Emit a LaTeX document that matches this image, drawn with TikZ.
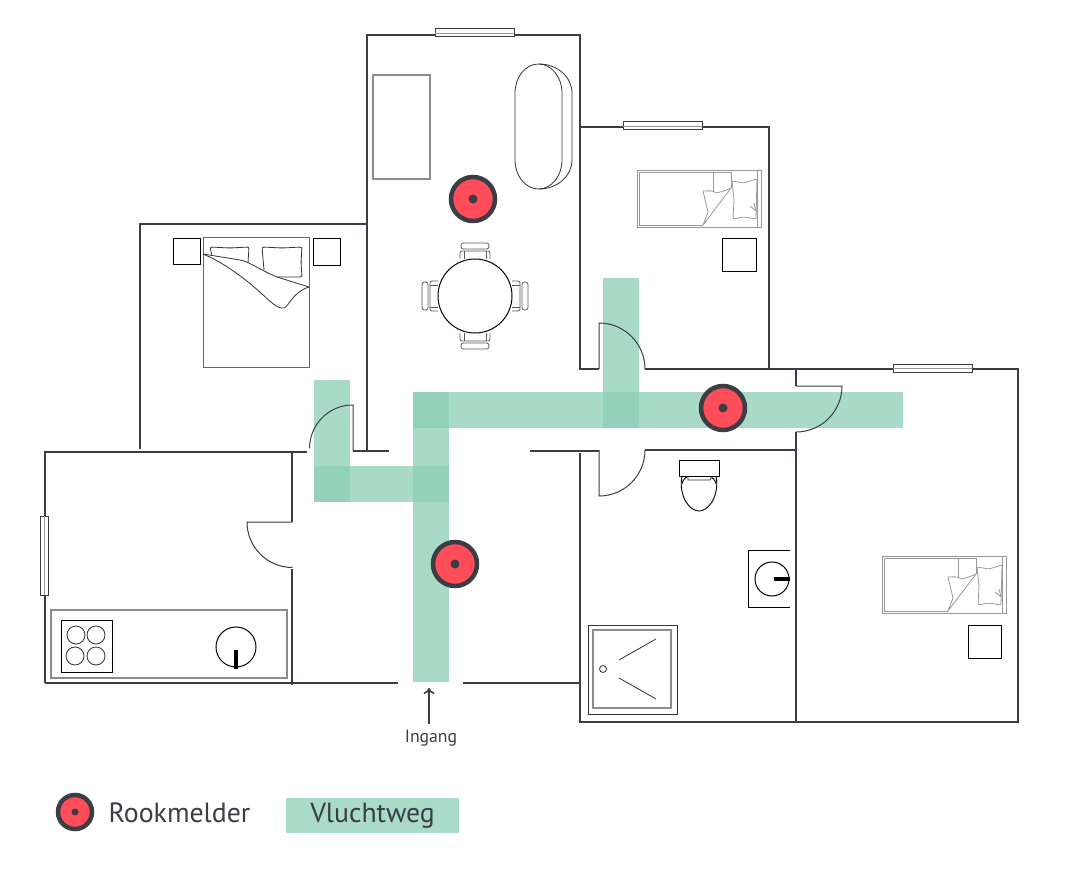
\documentclass[tikz,border=0pt]{standalone}
\usepackage{fontspec}
\setmainfont{PT Sans}
\usetikzlibrary{arrows.meta}
\definecolor{walldark}{HTML}{3B3D45}
\definecolor{alarmred}{HTML}{FF4D5A}
\definecolor{routegreen}{RGB}{141,207,182}
\definecolor{legendgreen}{HTML}{A9DBC8}
\tikzset{
  wall/.style={draw=walldark,line width=2pt},
  doorleaf/.style={draw=walldark,line width=1pt},
  thinline/.style={draw=black!80,line width=.8pt},
  lightline/.style={draw=black!40,line width=.8pt},
  greyline/.style={draw=black!45,line width=1.4pt},
  route/.style={fill=routegreen,fill opacity=.756},
  wintje/.style={draw=walldark,line width=1pt,fill=white},
  melder/.style={circle,draw=walldark,fill=alarmred,line width=4.5pt,inner sep=0pt,minimum size=#1},
  chair/.pic={
    \draw[lightline,draw=black!65,rounded corners=2pt] (-15,-37) -- (-15,-45) -- (15,-45) -- (15,-37);
    \draw[lightline,draw=black!65] (-11,-45) -- (-11,-37);
    \draw[lightline,draw=black!65] (11,-45) -- (11,-37);
    \draw[lightline,draw=black!65,rounded corners=2.5pt] (-14,-53) rectangle (14,-47);
  },
  singlebed/.pic={
    \draw[lightline] (0,0) rectangle (124,57);
    \draw[lightline] (94,18) -- (94,2) -- (2,2) -- (2,55) -- (66,55);
    \draw[lightline] (76,2) -- (76,21);
    \draw[lightline] (66,21) .. controls (72,21) and (75,20) .. (79,23) .. controls (84,22) and (90,20) .. (94,18);
    \draw[lightline] (66,21) -- (71,42) -- (66,55) -- (94,18);
    \draw[lightline,rounded corners=1pt] (95,11) -- (107,13) -- (120,9) -- (119,49) -- (107,47) -- (96,49) -- (97,30) -- cycle;
    \draw[lightline] (120,0) -- (120,57);
    \draw[lightline] (113,36) -- (119,41);
    \draw[lightline] (117,33) -- (119,41);
  }
}
\begin{document}
\begin{tikzpicture}[x=1pt,y=-1pt]
    \useasboundingbox (0,0) rectangle (1080,896);
    \fill[white] (0,0) rectangle (1080,896);
    \fill[route] (314,380) rectangle (350,502);
    \fill[route] (314,466) rectangle (448.5,502);
    \fill[route] (412.5,391.5) rectangle (448.5,682);
    \fill[route] (412.5,391.5) rectangle (903,427.5);
    \fill[route] (603,278) rectangle (639,427.5);

    \draw[wall] (367,452) -- (367,35) -- (580,35) -- (580,369) -- (599,369);
    \draw[wall] (580,127) -- (769,127) -- (769,369);
    \draw[wall] (645,369) -- (1018,369) -- (1018,722) -- (580,722) -- (580,453);
    \draw[wall] (796,369) -- (796,386);
    \draw[wall] (796,432) -- (796,722);
    \draw[wall] (140,449) -- (140,224) -- (367,224);
    \draw[wall] (45,682.5) -- (45,452) -- (307,452);
    \draw[wall] (353,451) -- (389,451);
    \draw[wall] (292,452) -- (292,522);
    \draw[wall] (292,569) -- (292,685);
    \draw[wall] (45,682.5) -- (398,682.5);
    \draw[wall] (463,682.5) -- (580,682.5);
    \draw[wall] (530,451) -- (599,451);
    \draw[wall] (645,450) -- (796,450);

    \draw[wintje] (435,29) rectangle (514,37);
    \draw[lightline] (435,33) -- (514,33);
    \draw[wintje] (623,122) rectangle (702,130);
    \draw[lightline] (623,126) -- (702,126);
    \draw[wintje] (893,364) rectangle (972,372);
    \draw[lightline] (893,368) -- (972,368);
    \draw[wintje] (40,516) rectangle (48,595);
    \draw[lightline] (44,516) -- (44,595);

    \draw[doorleaf] (353,451) -- (353,405) -- (350,405) arc[start angle=266,end angle=180,radius=43.5];
    \draw[doorleaf] (599,369) -- (599,323) arc[start angle=270,end angle=360,radius=46];
    \draw[doorleaf] (796,386) -- (842,386) arc[start angle=0,end angle=90,radius=46];
    \draw[doorleaf] (599,450) -- (599,496) arc[start angle=90,end angle=0,radius=46];
    \draw[doorleaf] (292,522) -- (247,522) arc[start angle=180,end angle=90,radius=45.5];

    \draw[greyline] (373,75) rectangle (430,179);
    \draw[thinline] (515,93) arc[start angle=180,end angle=360,x radius=23.5,y radius=29]
        -- (562,160) arc[start angle=0,end angle=180,x radius=23.5,y radius=29] -- cycle;
    \draw[thinline] (539,64) arc[start angle=270,end angle=360,x radius=33,y radius=29]
        -- (572,160) arc[start angle=0,end angle=90,x radius=33,y radius=29];

    \pic at (475,296) {chair};
    \pic[rotate=90] at (475,296) {chair};
    \pic[rotate=180] at (475,296) {chair};
    \pic[rotate=270] at (475,296) {chair};
    \draw[fill=white,line width=1pt] (475,296) circle (37);

    \draw[draw=black!60,line width=.9pt] (203,237) rectangle (309,367);
    \draw[thinline,rounded corners=2pt] (212,256) -- (210,247) -- (230,248) -- (249,247) -- (248,263);
    \draw[thinline,rounded corners=2pt] (264,270) -- (262,247) -- (282,248) -- (302,247) -- (301,262) -- (302,277) -- (277,277);
    \draw[thinline] (203,254) -- (240,260) .. controls (248,261) and (262,271) .. (277,277) -- (309,287);
    \draw[thinline] (203,254) .. controls (225,263) and (248,281) .. (262,294)
        .. controls (270,301) and (277,309) .. (284,308)
        .. controls (289,306) and (293,292) .. (309,287);
    \draw[line width=1pt] (173,239) rectangle (200,265);
    \draw[line width=1pt] (313,239) rectangle (340,266);

    \pic at (637,170) {singlebed};
    \pic at (882,556) {singlebed};
    \draw[line width=1pt] (722,239) rectangle (756,272);
    \draw[line width=1pt] (968,625) rectangle (1001,658);

    \draw[greyline] (51,610) rectangle (287,678);
    \draw[line width=.9pt] (61,620) rectangle (112,672);
    \draw[thinline] (76,635) circle (9);
    \draw[thinline] (96,635) circle (9);
    \draw[thinline] (75,656) circle (9);
    \draw[thinline] (96,656) circle (9);
    \draw[line width=1pt] (236,647) circle (20);
    \draw[line width=3.5pt] (236,650) -- (236,669);

    \draw[line width=.9pt] (682,476) .. controls (680,486) and (682,495) .. (686,502)
        .. controls (694,514) and (704,514) .. (712,502)
        .. controls (716,495) and (718,486) .. (716,476);
    \draw[line width=.9pt] (682,484) .. controls (684,476) and (690,474) .. (699,474)
        .. controls (708,474) and (714,476) .. (716,484);
    \draw[thinline] (688,476) -- (688,480) -- (710,480) -- (712,476);
    \draw[line width=.9pt,fill=white] (679,460) rectangle (719,476);

    \draw[line width=.8pt] (790,550) -- (748,550) -- (748,607) -- (790,607);
    \draw[line width=1pt] (772,579) circle (17);
    \draw[line width=3.5pt] (774,579) -- (790,579);

    \draw[thinline] (588,625) rectangle (677,714);
    \draw[greyline,line width=1.1pt] (593,630) rectangle (671,708);
    \draw[thinline] (603,669) circle (3.5);
    \draw[thinline] (619,660) -- (656,639);
    \draw[thinline] (619,678) -- (656,699);

    \node[melder=44pt] (melderbad) at (473,199) {};
    \fill[walldark] (melderbad) circle (4.5);
    \node[melder=44pt] (melderhal) at (455,564) {};
    \fill[walldark] (melderhal) circle (4.5);
    \node[melder=44pt] (meldergang) at (723,408) {};
    \fill[walldark] (meldergang) circle (4.5);

    \coordinate (ingangpunt) at (429,688);
    \node[inner sep=0pt,text=walldark,font=\fontsize{17.7}{20}\selectfont] (ingang) at (431,738) {Ingang};
    \draw[walldark,line width=1.6pt,-{To[length=6pt,width=11pt]},shorten <=6pt] (ingang.north -| ingangpunt) -- (ingangpunt);

    \node[melder=34pt] (melderlegenda) at (75,812) {};
    \fill[walldark] (melderlegenda) circle (3.5);
    \node[inner sep=0pt,text=walldark,font=\fontsize{27.8}{30}\selectfont] (rookmelder) at (179.5,813) {Rookmelder};
    \node[fill=legendgreen,text=walldark,inner sep=0pt,minimum width=173pt,minimum height=35pt,font=\fontsize{27.7}{30}\selectfont] (vluchtweg) at (372.5,815.5) {Vluchtweg};
\end{tikzpicture}
\end{document}
